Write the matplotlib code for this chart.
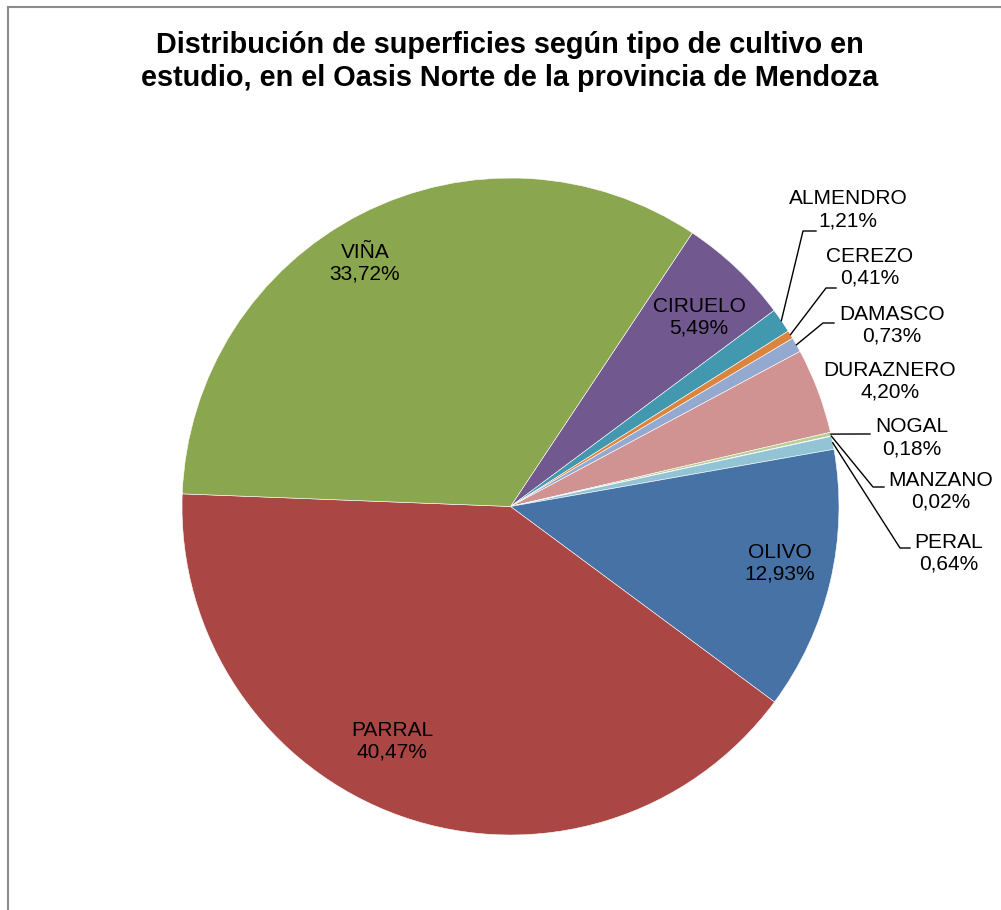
import numpy as np
import matplotlib
matplotlib.use("Agg")
import matplotlib.pyplot as plt

# Cultivos en orden horario, desde CIRUELO
cultivos = ["CIRUELO", "ALMENDRO", "CEREZO", "DAMASCO", "DURAZNERO", "NOGAL",
            "MANZANO", "PERAL", "OLIVO", "PARRAL", "VIÑA"]
porcentajes = [5.49, 1.21, 0.41, 0.73, 4.20, 0.18, 0.02, 0.64, 12.93, 40.47, 33.72]
colores = ["#71588F", "#4198AF", "#DB843D", "#93A9CF", "#D19392", "#B9CD96",
           "#A99BBD", "#93C4D6", "#4672A6", "#AA4644", "#8AA64F"]

titulo = ["Distribución de superficies según tipo de cultivo en",
          "estudio, en el Oasis Norte de la provincia de Mendoza"]

# label layout (pixel positions of each label block centre)
label_pos = {
    "VIÑA": (365, 265), "CIRUELO": (699, 319), "OLIVO": (780, 565),
    "PARRAL": (392, 743), "ALMENDRO": (848, 212), "CEREZO": (870, 269),
    "DAMASCO": (892, 327), "DURAZNERO": (890, 383), "NOGAL": (912, 440),
    "MANZANO": (941, 493), "PERAL": (949, 555),
}
# leader lines: elbow and end point
leaders = {
    "ALMENDRO": [(803, 231), (816, 231)],
    "CEREZO": [(826, 288), (836, 288)],
    "DAMASCO": [(823, 323), (834, 323)],
    "NOGAL": [(858, 434), (870, 434)],
    "MANZANO": [(873, 487), (884, 487)],
    "PERAL": [(900, 548), (910, 548)],
}

W, H = 1001, 910
fig = plt.figure(figsize=(W / 100, H / 100), dpi=100)
ax = fig.add_axes([0, 0, 1, 1])

cx, cy, r = 510.5, 506.5, 328.5
wedges, _ = ax.pie(porcentajes, colors=colores, startangle=-56.4, counterclock=True,
                   center=(cx, cy), radius=r,
                   wedgeprops=dict(edgecolor="white", linewidth=0.4))
ax.set_xlim(0, W)
ax.set_ylim(H, 0)
ax.set_aspect("equal")
ax.axis("off")

font = "Liberation Sans"
for name, val, w in zip(cultivos, porcentajes, wedges):
    txt = name + "\n" + f"{val:.2f}".replace(".", ",") + "%"
    x, y = label_pos[name]
    ax.text(x, y - 2, txt, ha="center", va="center", fontsize=15,
            family=font, color="black", linespacing=1.2)
    if name in leaders:
        mid = np.deg2rad((w.theta1 + w.theta2) / 2)
        x0 = cx + r * np.cos(mid)
        y0 = cy + r * np.sin(mid)
        pts = [(x0, y0)] + leaders[name]
        ax.plot([p[0] for p in pts], [p[1] for p in pts], color="black", lw=1.0)

# title
ax.text(510, 53, titulo[0], ha="center", va="baseline", fontsize=20.8,
        fontweight="bold", family=font)
ax.text(510, 86, titulo[1], ha="center", va="baseline", fontsize=20.8,
        fontweight="bold", family=font)

# chart border (left and top edges visible)
ax.plot([7.5, 7.5], [H, 6.5], color="#8c8c8c", lw=1.5, clip_on=False)
ax.plot([7.5, W], [6.5, 6.5], color="#8c8c8c", lw=1.5, clip_on=False)

fig.savefig("out.png", dpi=100, facecolor="white")
